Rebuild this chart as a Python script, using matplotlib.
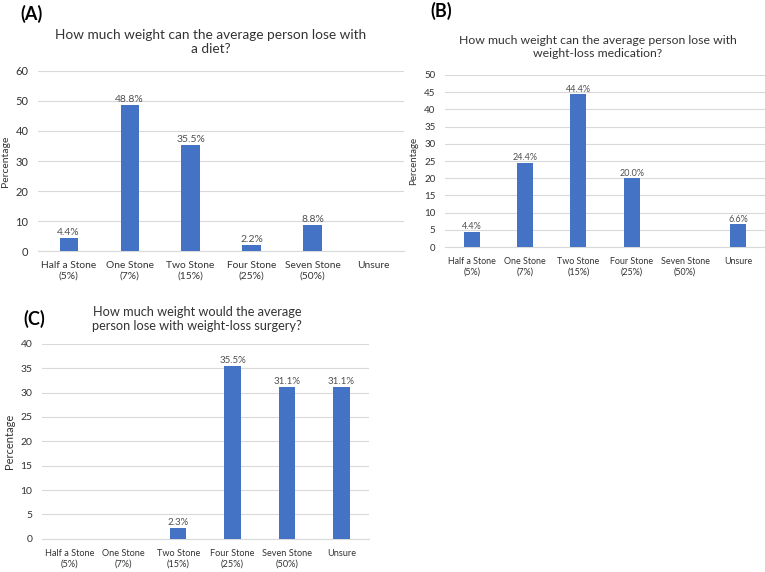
import numpy as np
import matplotlib
matplotlib.use('Agg')
from matplotlib import pyplot as plt

plt.rcParams['font.family'] = ['Lato', 'DejaVu Sans']

categories = ['Half a Stone\n(5%)', 'One Stone\n(7%)', 'Two Stone\n(15%)',
              'Four Stone\n(25%)', 'Seven Stone\n(50%)', 'Unsure']

diet = [4.4, 48.8, 35.5, 2.2, 8.8, 0.0]
medication = [4.4, 24.4, 44.4, 20.0, 0.0, 6.6]
surgery = [0.0, 0.0, 2.3, 35.5, 31.1, 31.1]

BLUE = '#4472C4'
GRID = '#D9D9D9'
TXT = '#333333'


def bar_panel(ax, values, ymax, ystep, tick_fs, ytick_fs, label_fs, ylabel_fs):
    x = np.arange(len(categories))
    ax.bar(x, values, width=0.3, color=BLUE, zorder=3)
    for xi, v in zip(x, values):
        if v > 0:
            ax.text(xi, v + ymax * 0.004, f'{v:.1f}%', ha='center', va='bottom',
                    fontsize=label_fs, color='#505050')
    ax.set_xlim(-0.5, len(categories) - 0.5)
    ax.set_ylim(0, ymax)
    ax.set_yticks(np.arange(0, ymax + ystep / 2, ystep))
    ax.set_xticks(x)
    ax.set_xticklabels(categories, fontsize=tick_fs, color=TXT, linespacing=1.3)
    ax.tick_params(axis='y', labelsize=ytick_fs, colors=TXT, length=0, pad=7)
    ax.tick_params(axis='x', length=0, pad=7)
    ax.yaxis.grid(True, color=GRID, lw=0.8, zorder=0)
    for s in ['top', 'right', 'left']:
        ax.spines[s].set_visible(False)
    ax.spines['bottom'].set_color(GRID)
    ax.set_ylabel('Percentage', fontsize=ylabel_fs, color=TXT, labelpad=4)


fig = plt.figure(figsize=(7.65, 5.72), dpi=100)

ax_a = fig.add_axes([0.050, 0.561, 0.478, 0.315])
bar_panel(ax_a, diet, 60, 10, 7.4, 8, 7.5, 7.5)
fig.text(211 / 765, 1 - 42 / 572, 'How much weight can the average person lose with\na diet?',
         ha='center', va='center', fontsize=9.8, color=TXT, linespacing=1.25)
fig.text(20 / 765, 1 - 14 / 572, '(A)', ha='left', va='center', fontsize=13, fontweight='bold')

ax_b = fig.add_axes([0.582, 0.568, 0.418, 0.301])
bar_panel(ax_b, medication, 50, 5, 6.4, 7, 6.5, 7)
fig.text(598 / 765, 1 - 47 / 572, 'How much weight can the average person lose with\nweight-loss medication?',
         ha='center', va='center', fontsize=8.8, color=TXT, linespacing=1.3)
fig.text(430 / 765, 1 - 11 / 572, '(B)', ha='left', va='center', fontsize=13, fontweight='bold')

ax_c = fig.add_axes([0.055, 0.058, 0.427, 0.341])
bar_panel(ax_c, surgery, 40, 5, 6.6, 7.5, 7, 8)
fig.text(197 / 765, 1 - 319 / 572, 'How much weight would the average\nperson lose with weight-loss surgery?',
         ha='center', va='center', fontsize=9.2, color=TXT, linespacing=1.25)
fig.text(23 / 765, 1 - 319 / 572, '(C)', ha='left', va='center', fontsize=13, fontweight='bold')

fig.savefig('out.png', dpi=100)
